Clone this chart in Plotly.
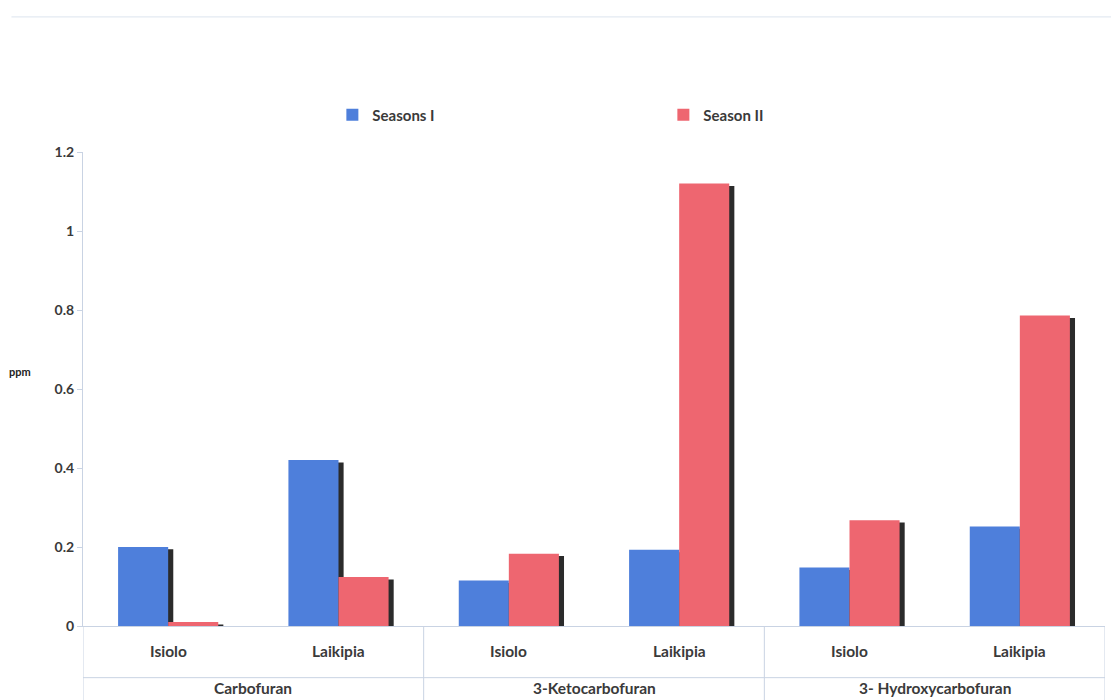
import plotly.graph_objects as go

# Compound groups and sampling sites
compounds = ["Carbofuran", "Carbofuran",
             "3-Ketocarbofuran", "3-Ketocarbofuran",
             "3- Hydroxycarbofuran", "3- Hydroxycarbofuran"]
sites = ["Isiolo", "Laikipia", "Isiolo", "Laikipia", "Isiolo", "Laikipia"]

# Residue levels (ppm)
season_1 = [0.20, 0.42, 0.115, 0.193, 0.148, 0.252]
season_2 = [0.01, 0.124, 0.183, 1.12, 0.268, 0.786]

BLUE = "#4E7FDB"
RED = "#EE6670"
SHADOW = "#2B2B2B"
TEXT = "#3A3A3A"
AXIS = "#C9D3E3"
FONT = "Lato"

pos = list(range(len(sites)))   # one slot per (compound, site) pair
bar_w = 0.294                   # bar width in slot units
sh_dx = 0.03                    # drop-shadow horizontal offset
sh_dy = 0.006                   # drop-shadow vertical offset (ppm)

fig = go.Figure()

# drop shadows behind each bar
for vals, off in ((season_1, -bar_w), (season_2, 0.0)):
    fig.add_trace(go.Bar(
        x=pos, y=vals, base=[-sh_dy] * len(vals),
        width=bar_w, offset=off + sh_dx,
        marker=dict(color=SHADOW, line=dict(width=0)),
        showlegend=False, hoverinfo="skip",
    ))

fig.add_trace(go.Bar(
    x=pos, y=season_1, name="Seasons I",
    width=bar_w, offset=-bar_w,
    marker=dict(color=BLUE, line=dict(width=0)),
))
fig.add_trace(go.Bar(
    x=pos, y=season_2, name="Season II",
    width=bar_w, offset=0.0,
    marker=dict(color=RED, line=dict(width=0)),
))

fig.update_layout(
    width=1111, height=700,
    barmode="overlay",
    plot_bgcolor="white", paper_bgcolor="white",
    margin=dict(l=83, r=6, t=152, b=74),
    font=dict(family=FONT, size=14, color=TEXT, weight="bold"),
    legend=dict(
        orientation="h", x=0.244, y=1.078, xanchor="left", yanchor="middle",
        entrywidth=286, entrywidthmode="pixels",
        font=dict(family=FONT, size=15, color=TEXT, weight="bold"),
        bgcolor="rgba(0,0,0,0)",
    ),
    showlegend=True,
)

fig.update_xaxes(
    range=[-0.5, len(pos) - 0.5],
    showline=True, linecolor=AXIS, linewidth=1,
    showticklabels=False, ticks="", showgrid=False, zeroline=False,
)
fig.update_yaxes(
    range=[0, 1.2], dtick=0.2,
    showline=True, linecolor=AXIS, linewidth=1,
    ticks="outside", ticklen=5, tickcolor=AXIS,
    showgrid=False, zeroline=False,
    tickfont=dict(family=FONT, size=14, color=TEXT, weight="bold"),
)

label_font = dict(family=FONT, size=15.5, color=TEXT, weight="bold")
SITE_Y = -0.053      # site row, just under the axis
GROUP_Y = -0.131     # compound row
RULE_Y = -0.109      # rule between the two rows
BOTTOM_Y = -0.16     # dividers run to the page edge

# site labels
for p, s in zip(pos, sites):
    fig.add_annotation(x=p, y=SITE_Y, xref="x", yref="paper", text=s,
                       showarrow=False, yanchor="middle", font=label_font)

# compound labels centred on their sites, with dividers on group edges
groups = []
for p, c in zip(pos, compounds):
    if groups and groups[-1][0] == c:
        groups[-1][2] = p
    else:
        groups.append([c, p, p])

edges = set()
for name, first, last in groups:
    fig.add_annotation(x=(first + last) / 2, y=GROUP_Y, xref="x", yref="paper",
                       text=name, showarrow=False, yanchor="middle", font=label_font)
    edges.update([first - 0.5, last + 0.5])

for e in sorted(edges):
    fig.add_shape(type="line", xref="x", yref="paper", x0=e, x1=e,
                  y0=0, y1=BOTTOM_Y, line=dict(color=AXIS, width=1))

fig.add_shape(type="line", xref="paper", yref="paper",
              x0=0, x1=1, y0=RULE_Y, y1=RULE_Y,
              line=dict(color=AXIS, width=1))

# faint chart-area frame along the top
fig.add_shape(type="line", xref="paper", yref="paper",
              x0=-0.07, x1=1.006, y0=1.285, y1=1.285,
              line=dict(color="#DCE4EE", width=1))

# horizontal unit label beside the value axis
fig.add_annotation(
    text="ppm", xref="paper", yref="paper",
    x=-0.049, y=0.536, xanchor="right", yanchor="middle",
    showarrow=False, font=dict(family=FONT, size=11, color="#222", weight="bold"),
)

fig.write_html("out.html")
